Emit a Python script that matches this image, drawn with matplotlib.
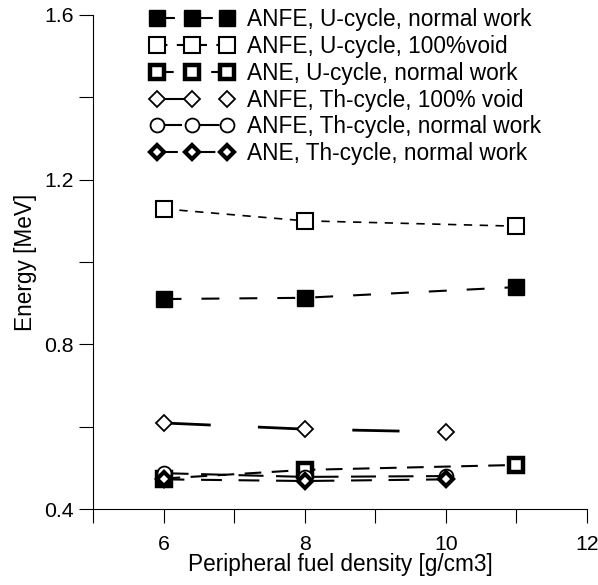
import matplotlib
matplotlib.use("Agg")
import matplotlib.pyplot as plt
from matplotlib.ticker import MultipleLocator

plt.rcParams["font.family"] = ["Liberation Sans", "DejaVu Sans"]

# ── Data ──────────────────────────────────────────────────────────────
x_u  = [6, 8, 11]
x_th = [6, 8, 10]

anfe_u_normal = [0.910, 0.913, 0.939]
anfe_u_void   = [1.129, 1.100, 1.087]
ane_u_normal  = [0.474, 0.495, 0.507]
anfe_th_void  = [0.609, 0.594, 0.587]
anfe_th_norm  = [0.487, 0.478, 0.480]
ane_th_normal = [0.472, 0.468, 0.472]

labels = [
    "ANFE, U-cycle, normal work",
    "ANFE, U-cycle, 100%void",
    "ANE, U-cycle, normal work",
    "ANFE, Th-cycle, 100% void",
    "ANFE, Th-cycle, normal work",
    "ANE, Th-cycle, normal work",
]

FS = 16.3
TICK_FS = 15.3

fig = plt.figure(figsize=(5.98, 5.85), dpi=100)
ax = fig.add_axes([0.1555, 0.1299, 0.8261, 0.8445])

ax.plot(x_u, anfe_u_normal, color="black", lw=1.5, dashes=[8.6, 9.6],
        marker="s", ms=12, mfc="black", mec="black", label=labels[0])
ax.plot(x_u, anfe_u_void, color="black", lw=1.2, dashes=[5, 4.5],
        marker="s", ms=11, mfc="white", mec="black", mew=1.5, label=labels[1])
ax.plot(x_u, ane_u_normal, color="black", lw=1.5, dashes=[8, 5],
        marker="s", ms=10.5, mfc="white", mec="black", mew=3.2, label=labels[2])
ax.plot(x_th, anfe_th_void, color="black", lw=2, dashes=[17, 17],
        marker="D", ms=8, mfc="white", mec="black", mew=1.3, label=labels[3])
ax.plot(x_th, anfe_th_norm, color="black", lw=1.5, dashes=[12, 6],
        marker="o", ms=10, mfc="white", mec="black", mew=1.3, label=labels[4])
ax.plot(x_th, ane_th_normal, color="black", lw=1.5, dashes=[10, 8],
        marker="D", ms=7.5, mfc="white", mec="black", mew=3, label=labels[5])

ax.set_xlim(5, 12)
ax.set_ylim(0.4, 1.6)
ax.xaxis.set_major_locator(MultipleLocator(2))
ax.xaxis.set_minor_locator(MultipleLocator(1))
ax.yaxis.set_major_locator(MultipleLocator(0.4))
ax.yaxis.set_minor_locator(MultipleLocator(0.2))
ax.tick_params(which="both", direction="out", length=10, width=0.8,
               labelsize=TICK_FS, colors="black")
ax.tick_params(axis="x", pad=9)
ax.tick_params(axis="y", pad=4)

ax.spines["top"].set_visible(False)
ax.spines["right"].set_visible(False)

ax.set_xlabel("Peripheral fuel density [g/cm3]", fontsize=FS, labelpad=-1)
ax.set_ylabel("Energy [MeV]", fontsize=FS, labelpad=5)

leg = ax.legend(loc="upper left", bbox_to_anchor=(150 / 598, 1 - 8 / 585),
                bbox_transform=fig.transFigure, frameon=False, numpoints=3,
                fontsize=FS, handlelength=3.7, handletextpad=0.57,
                labelspacing=0.17, borderpad=0, borderaxespad=0)
for h in leg.get_lines():
    h.set_linewidth(1.5)

fig.savefig("out.png", dpi=100)
